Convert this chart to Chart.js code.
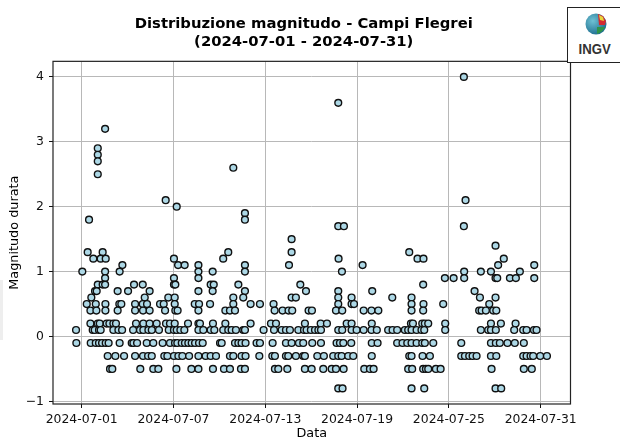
<!DOCTYPE html>
<html><head><meta charset="utf-8">
<style>
html,body{margin:0;padding:0;background:#fff;width:620px;height:441px;overflow:hidden}
#wrap{position:relative;width:620px;height:441px}
#strip{position:absolute;left:0;top:280px;width:3px;height:60px;background:#eee}
#logo{position:absolute;left:567px;top:7px;width:53px;height:56px;box-sizing:border-box;border:1px solid #222;border-right:none;background:#fff;text-align:center}
#logo svg{position:absolute;left:16.5px;top:5px}
#logo span{position:absolute;left:0;width:53px;top:32px;font:bold 15.5px/17px "Liberation Sans Narrow","Liberation Sans",sans-serif;color:#333;transform:scaleX(.85);transform-origin:27.5px 0}
canvas{position:absolute;left:0;top:0}
</style>
<script src="https://cdn.jsdelivr.net/npm/chart.js@4"></script>
</head><body>
<div id="wrap">
<div id="strip"></div>
<canvas id="c" width="620" height="441"></canvas>
<div id="logo"><svg width="22" height="22" viewBox="0 0 22 22">
<defs><radialGradient id="g" cx="35%" cy="35%" r="75%"><stop offset="0" stop-color="#6fc1d3"/><stop offset="1" stop-color="#17688a"/></radialGradient></defs>
<circle cx="11" cy="11" r="10.5" fill="url(#g)"/>
<path d="M13 1 L18 3 L21 8 L20 12 L14 12 Z" fill="#d42a2f"/><path d="M14 2 L18 4 L19 8 L15 7 Z" fill="#e8d63c"/>
<path d="M12 14 L20 14 Q18 19 12 21 Z" fill="#2f9447"/></svg><span>INGV</span></div>
</div>
<script>
const chartTitle = ["Distribuzione magnitudo - Campi Flegrei", "(2024-07-01 - 2024-07-31)"];
const xLabel = "Data";
const yLabel = "Magnitudo durata";
const startDate = Date.UTC(2024, 6, 1);
const xTickDays = [0, 6, 12, 18, 24, 30];
const yTicks = [-1, 0, 1, 2, 3, 4];
const magnitudes = [4.0,3.6,3.2,2.9,2.8,2.7,2.6,2.5,2.1,2.0,1.9,1.8,1.7,1.5,1.4,1.3,1.2,1.1,1.0,0.9,0.8,0.7,0.6,0.5,0.4,0.2,0.1,-0.1,-0.3,-0.5,-0.8];
const daysByMagnitude = [
 [24.98],
 [16.77],
 [1.53],
 [1.05],
 [1.05],
 [1.05],
 [9.91],
 [1.05],
 [5.49,25.09],
 [6.21],
 [10.67],
 [0.48,10.67],
 [16.77,17.14,24.98],
 [13.72],
 [27.05],
 [0.39,1.37,9.58,13.72,21.41],
 [0.76,1.24,1.57,6.03,9.25,16.79,21.95,22.34,27.59],
 [2.66,6.30,6.73,7.63,10.67,13.55,18.36,27.22,29.58],
 [0.04,1.53,2.48,7.63,8.56,10.67,17.01,25.0,26.09,26.75,28.64],
 [1.53,6.03,7.63,23.74,24.31,25.0,27.05,27.16,27.99,28.38,29.58],
 [1.05,1.37,1.53,3.42,3.99,6.03,6.12,8.43,8.63,10.24,14.29,22.32],
 [0.87,0.98,2.35,3.03,4.44,7.63,8.56,10.67,14.66,16.77,18.99,25.68],
 [0.63,4.12,5.66,6.08,9.91,10.56,13.72,14.0,16.77,17.64,20.3,21.56,26.03,27.05],
 [0.33,0.92,1.55,2.46,2.59,3.49,3.99,4.27,5.12,5.36,6.08,7.39,7.67,8.39,9.91,11.04,11.65,12.54,16.77,17.64,17.8,21.56,22.34,23.63,26.64],
 [0.57,0.96,1.55,2.35,3.49,4.01,4.44,5.45,6.12,6.27,7.63,9.39,9.69,10.02,12.61,13.13,13.52,13.76,14.83,15.05,16.62,17.03,18.43,18.94,19.39,21.56,22.32,25.98,26.14,26.42,26.9,27.1],
 [0.57,1.05,1.18,1.63,1.81,2.07,2.24,3.55,4.03,4.44,4.9,5.51,5.77,6.08,6.95,7.63,7.73,8.58,9.39,11.04,12.37,12.7,14.59,15.62,16.03,17.32,17.64,18.96,21.52,21.65,22.26,22.43,22.65,23.76,26.75,27.4,28.36],
 [-0.37,0.72,0.85,1.13,1.24,2.07,2.4,2.64,3.36,3.81,4.03,4.36,4.58,5.05,5.69,6.03,6.21,6.45,6.71,7.63,7.95,8.43,8.67,9.25,9.58,9.8,10.08,10.56,10.67,11.89,12.57,13.07,13.35,13.61,14.16,14.53,14.7,14.98,15.25,15.47,15.64,16.77,17.03,17.64,17.97,18.43,18.94,19.29,20.03,20.32,20.62,21.12,21.34,21.56,21.89,22.21,22.39,23.76,26.09,26.57,26.75,27.07,28.27,28.86,29.08,29.56,29.73],
 [-0.35,0.59,0.92,1.13,1.33,1.57,1.76,2.48,3.27,3.38,3.62,4.25,4.68,5.29,5.77,6.1,6.25,6.54,6.75,6.97,7.19,7.41,7.67,7.91,9.04,9.15,10.02,10.24,10.45,10.71,11.43,11.65,12.48,13.35,13.72,14.2,14.48,15.07,15.64,16.66,16.88,17.1,17.62,18.96,19.34,20.62,20.97,21.28,21.56,21.89,22.26,22.43,22.98,24.81,26.75,27.07,27.33,27.83,28.31,28.9],
 [1.7,2.2,2.77,3.49,4.01,4.34,4.58,5.4,5.6,6.03,6.32,6.58,7.02,7.63,8.1,8.43,8.78,9.69,9.91,10.45,10.71,11.61,12.46,12.63,13.35,13.5,14.0,14.48,14.59,15.4,15.83,16.44,16.77,16.99,17.42,17.75,18.96,21.41,21.56,22.28,22.76,24.81,25.05,25.33,25.55,25.81,26.75,27.1,28.86,29.08,29.34,29.51,29.97,30.41],
 [1.85,2.0,3.83,4.68,5.01,6.19,7.17,7.63,8.58,9.3,9.69,10.41,10.67,12.63,12.85,13.44,14.59,15.03,15.79,16.34,16.62,17.12,18.47,18.84,19.08,21.34,21.6,22.32,22.5,22.65,23.15,23.46,26.79,28.9,29.42],
 [16.77,17.05,21.56,22.39,27.05,27.42]
];
const points = [];
magnitudes.forEach((m, i) => daysByMagnitude[i].forEach(d => points.push({x: d, y: m})));
const frame = {id:'frame',
  afterLayout(c){ if (c.titleBlock) { c.titleBlock.left -= 8; c.titleBlock.right -= 8; } },
  afterDatasetsDraw(c){
    const a = c.chartArea, g = c.ctx;
    g.save(); g.strokeStyle = '#222'; g.lineWidth = 1.2;
    g.strokeRect(a.left, a.top, a.right - a.left, a.bottom - a.top); g.restore();
  }};
const tickFont = {family:'"DejaVu Sans"', size:12.4};
const axisFont = {family:'"DejaVu Sans"', size:12.8};
new Chart(document.getElementById('c'), {
  type:'scatter',
  data:{datasets:[{data:points, backgroundColor:'#add8e6', borderColor:'#111', borderWidth:1.4, pointRadius:3.4, pointHoverRadius:3.4}]},
  plugins:[frame],
  options:{
    responsive:false, animation:false, devicePixelRatio:1,
    layout:{padding:{left:0,right:49.5,top:0,bottom:0}},
    plugins:{
      legend:{display:false}, tooltip:{enabled:false},
      title:{display:true, text:chartTitle, fullSize:false, color:'#000', font:{family:'"DejaVu Sans"', size:14.8, weight:'bold', lineHeight:1.16}, padding:{top:16,bottom:11}}
    },
    scales:{
      x:{type:'linear', min:-1.876, max:31.95,
        afterBuildTicks(s){ s.ticks = xTickDays.map(v => ({value:v})); },
        afterFit(s){ s.height = 37; },
        title:{display:true, text:xLabel, color:'#000', font:axisFont, padding:{top:0,bottom:0}},
        border:{display:false},
        grid:{color:'#b8b8b8', lineWidth:1, tickColor:'#111', tickLength:4, drawTicks:true},
        ticks:{color:'#111', font:tickFont, maxRotation:0, autoSkip:false, padding:4,
          callback(v){ return new Date(startDate + v * 86400000).toISOString().slice(0,10); }}
      },
      y:{type:'linear', min:-1.04, max:4.24,
        afterBuildTicks(s){ s.ticks = yTicks.map(v => ({value:v})); },
        afterFit(s){ s.width = 53; },
        title:{display:true, text:yLabel, color:'#000', font:axisFont, padding:{top:7,bottom:0}},
        border:{display:false},
        grid:{color:'#b8b8b8', lineWidth:1, tickColor:'#111', tickLength:4, drawTicks:true},
        ticks:{color:'#111', font:tickFont, autoSkip:false, padding:5,
          callback(v){ return v < 0 ? '\u2212' + Math.abs(v) : String(v); }}
      }
    }
  }
});
</script>
</body></html>
